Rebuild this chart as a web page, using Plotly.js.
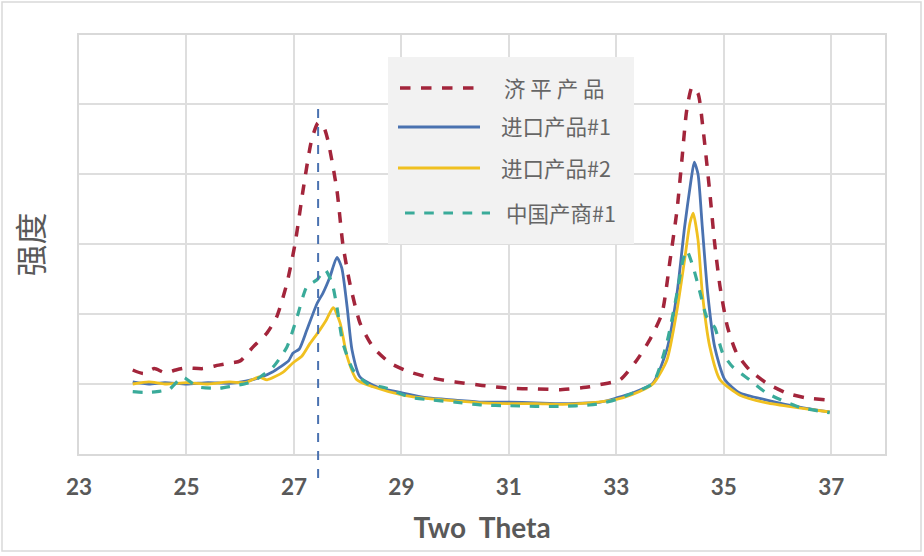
<!DOCTYPE html>
<html><head><meta charset="utf-8">
<script src="https://cdn.plot.ly/plotly-3.0.1.min.js"></script>
<style>html,body{margin:0;padding:0;background:#fff}#chart{width:924px;height:556px}</style>
</head><body><div id="chart"></div>
<script>
const seriesNames = ['济 平 产 品', '进口产品#1', '进口产品#2', '中国产商#1'];
const seriesColors = ['#a3253b', '#4a72b0', '#f0c020', '#3aab9a'];

const jipingX = [24.0,24.2,24.4,24.6,24.8,25.0,25.3,25.6,25.81,26.0,26.24,26.5,26.68,26.87,27.02,27.17,27.33,27.45,27.55,27.63,27.8,27.91,28.04,28.23,28.47,28.79,29.16,29.6,30.0,30.5,31.0,31.5,32.0,32.5,32.69,33.07,33.38,33.62,33.85,34.0,34.13,34.22,34.31,34.41,34.52,34.61,34.74,34.83,34.93,35.07,35.24,35.48,35.8,36.17,36.54,36.93,37.0];
const jipingY = [1.2,1.15,1.22,1.16,1.2,1.23,1.22,1.27,1.3,1.33,1.53,1.73,1.96,2.44,3.0,3.77,4.49,4.73,4.68,4.49,3.77,3.0,2.44,1.87,1.53,1.3,1.17,1.08,1.03,0.98,0.94,0.93,0.92,0.96,0.99,1.06,1.34,1.63,2.01,2.77,3.49,4.2,4.91,5.24,5.15,4.67,3.73,3.01,2.39,1.81,1.44,1.2,1.01,0.87,0.8,0.77,0.76];

const imp1X = [24.0,24.3,24.6,25.0,25.4,25.8,26.1,26.4,26.6,26.74,26.9,26.98,27.1,27.24,27.43,27.54,27.67,27.8,27.89,27.99,28.08,28.23,28.54,29.03,29.5,30.0,30.5,31.0,31.5,32.0,32.5,32.7,33.0,33.3,33.68,33.94,34.13,34.27,34.39,34.45,34.52,34.6,34.7,34.83,35.02,35.3,35.8,36.4,36.97];
const imp1Y = [1.03,1.0,1.02,1.0,1.02,1.01,1.04,1.1,1.17,1.24,1.33,1.44,1.5,1.77,2.15,2.3,2.53,2.81,2.66,2.1,1.49,1.1,0.96,0.87,0.8,0.77,0.74,0.74,0.73,0.72,0.73,0.74,0.8,0.87,1.01,1.49,2.3,3.24,3.91,4.17,4.0,3.24,2.3,1.53,1.06,0.87,0.77,0.67,0.6];

const imp2X = [24.0,24.3,24.6,25.0,25.4,25.8,26.1,26.35,26.5,26.8,26.98,27.15,27.3,27.48,27.6,27.73,27.86,27.99,28.17,28.47,29.03,29.5,30.0,30.5,31.0,31.5,32.0,32.5,33.0,33.3,33.68,33.94,34.13,34.27,34.37,34.43,34.52,34.6,34.74,34.93,35.3,35.8,36.4,36.97];
const imp2Y = [1.0,1.03,1.0,1.02,1.0,1.03,1.02,1.1,1.06,1.17,1.3,1.4,1.58,1.77,1.91,2.09,1.87,1.39,1.06,0.96,0.84,0.79,0.76,0.73,0.72,0.72,0.71,0.73,0.78,0.85,1.0,1.34,2.06,2.77,3.3,3.44,3.06,2.3,1.53,1.06,0.84,0.73,0.66,0.6];

const cnX = [24.0,24.2,24.45,24.69,24.93,25.2,25.62,25.85,26.13,26.37,26.61,26.87,27.06,27.24,27.43,27.58,27.71,27.8,27.91,28.1,28.36,28.73,29.16,29.6,30.0,30.5,31.0,31.5,32.0,32.5,32.7,33.0,33.3,33.68,33.94,34.13,34.24,34.31,34.43,34.56,34.68,34.83,34.98,35.17,35.48,35.8,36.4,36.97];
const cnY = [0.89,0.88,0.89,0.93,1.1,0.96,0.94,0.97,1.01,1.1,1.24,1.53,1.96,2.39,2.49,2.63,2.44,2.1,1.59,1.2,1.01,0.94,0.81,0.77,0.74,0.7,0.69,0.68,0.68,0.7,0.72,0.78,0.87,1.01,1.59,2.3,2.77,2.91,2.67,2.3,1.96,1.81,1.44,1.24,1.06,0.87,0.67,0.59];

const xTickVals = [23,25,27,29,31,33,35,37];
const markerX = 27.45;

const xs = [jipingX, imp1X, imp2X, cnX];
const ys = [jipingY, imp1Y, imp2Y, cnY];
const dashes = ['dash', 'solid', 'solid', 'dash'];
const widths = [3.5, 2.8, 2.8, 3.2];

const traces = xs.map((x, i) => ({
  x: x, y: ys[i], name: seriesNames[i], type: 'scatter', mode: 'lines',
  line: {color: seriesColors[i], width: widths[i], dash: dashes[i], shape: 'spline', smoothing: 0.6},
  showlegend: false
}));

// plot area in px: x 79..885, y 35..454
const PW = 806, PH = 419;
const px2x = p => (p - 79) / PW;
const py2y = p => (454 - p) / PH;

const shapes = [
  {type:'rect', xref:'paper', yref:'paper', x0:px2x(2), x1:px2x(921), y0:py2y(551), y1:py2y(2), line:{color:'#d9d9d9', width:1.5}, fillcolor:'rgba(0,0,0,0)', layer:'below'},
  {type:'line', xref:'x', yref:'paper', x0:markerX, x1:markerX, y0:py2y(478), y1:py2y(104), line:{color:'#4a72b0', width:2, dash:'dash'}},
  {type:'rect', xref:'paper', yref:'paper', x0:px2x(388), x1:px2x(634), y0:py2y(244), y1:py2y(57), line:{width:0}, fillcolor:'#f2f2f2'}
];
const annotations = [];
const legY = [88, 127, 168, 213];
const legX0 = [400, 398, 398, 405];
const legX1 = [476, 480, 480, 490];
const legTextX = [502, 499, 499, 504];
for (let i = 0; i < 4; i++) {
  shapes.push({type:'line', xref:'paper', yref:'paper', x0:px2x(legX0[i]), x1:px2x(legX1[i]), y0:py2y(legY[i]), y1:py2y(legY[i]),
    line:{color:seriesColors[i], width: widths[i], dash: dashes[i]}});
  annotations.push({xref:'paper', yref:'paper', x:px2x(legTextX[i]), y:py2y(legY[i]-1), xanchor:'left', yanchor:'middle', showarrow:false,
    text: seriesNames[i], font:{family:'Noto Sans CJK SC', size:21.5, color:'#666666'}});
}

const layout = {
  width: 924, height: 556,
  margin: {l: 79, r: 39, t: 35, b: 102},
  paper_bgcolor: '#ffffff', plot_bgcolor: '#ffffff',
  showlegend: false,
  xaxis: {
    range: [23, 38], tickvals: xTickVals, ticktext: xTickVals.map(String),
    showgrid: true, gridcolor: '#dedede', gridwidth: 2,
    showline: true, linecolor: '#d9d9d9', linewidth: 2, mirror: true,
    zeroline: false, ticks: '', ticklabelstandoff: 12,
    tickfont: {family: 'Lato', size: 22.5, color: '#595959', weight: 'bold'},
    title: {text: 'Two\u00a0\u00a0Theta', standoff: 19, font: {family: 'Lato', size: 28, color: '#595959', weight: 'bold'}}
  },
  yaxis: {
    range: [0, 5.986], dtick: 1, tick0: 0,
    showgrid: true, gridcolor: '#dedede', gridwidth: 2,
    showline: true, linecolor: '#d9d9d9', linewidth: 2, mirror: true,
    zeroline: false, showticklabels: false, ticks: '',
    title: {text: '强度', standoff: 24, font: {family: 'Noto Sans CJK SC', size: 32, color: '#595959'}}
  },
  shapes: shapes,
  annotations: annotations
};

Plotly.newPlot('chart', traces, layout, {displayModeBar: false, staticPlot: true});
</script>
</body></html>
